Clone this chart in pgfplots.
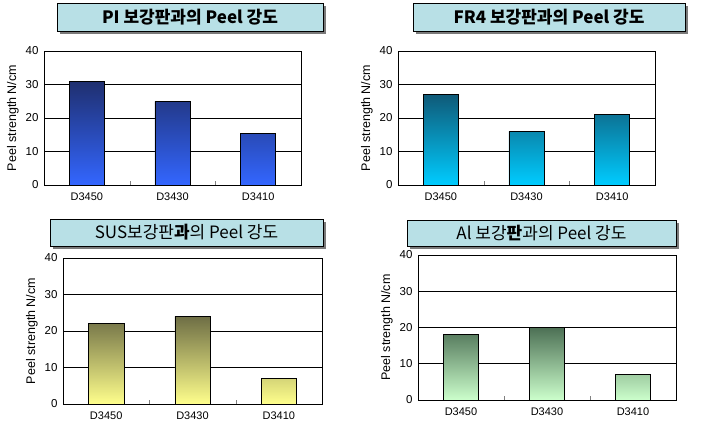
\documentclass[border=0pt]{standalone}
\usepackage{fontspec}
\setmainfont{Liberation Sans}
\newfontfamily\kr{Noto Sans CJK KR}
\usepackage{pgfplots}
\pgfplotsset{compat=1.18}
\definecolor{titlebg}{HTML}{B8E0E6}
\definecolor{shadowc}{HTML}{7A7A7A}
\definecolor{piT}{HTML}{1F2F6F}\definecolor{piB}{HTML}{3366FF}
\definecolor{frT}{HTML}{0F5A78}\definecolor{frB}{HTML}{00CCFF}
\definecolor{suT}{HTML}{6E6E45}\definecolor{suB}{HTML}{FFFF8C}
\definecolor{alT}{HTML}{4D7055}\definecolor{alB}{HTML}{CCFFCC}
\pgfplotsset{
  peel/.style={
    scale only axis, anchor=south west,
    ybar, bar width=0.41,
    xmin=-0.5, xmax=2.5, ymin=0, ymax=40,
    xtick={0,1,2}, xticklabels={D3450,D3430,D3410},
    major x tick style={draw=none},
    minor xtick={0.5,1.5}, minor tick length=4pt,
    ytick={0,10,20,30,40},
    ymajorgrids, grid style={black, line width=0.6pt},
    axis line style={black, line width=0.6pt},
    tick align=inside, tick pos=left,
    major tick length=0pt,
    xticklabel style={font=\fontsize{11}{13}\selectfont, yshift=-4pt},
    yticklabel style={font=\fontsize{11.5}{13}\selectfont, xshift=-2pt},
    /pgf/number format/assume math mode=true,
    ylabel={Peel strength N/cm},
    ylabel style={font=\fontsize{12.5}{14}\selectfont},
    every axis ylabel/.append style={at={(ticklabel cs:0.5)}, anchor=south, yshift=1pt},
  }
}
\newcommand{\titlebox}[5]{%
  \fill[shadowc] (#1pt+3pt,#3pt-3pt) rectangle (#2pt+3pt,#4pt-3pt);
  \draw[fill=titlebg, line width=0.8pt] (#1pt,#3pt) rectangle (#2pt,#4pt);
  \node at ({(#1pt+#2pt)/2},{(#3pt+#4pt)/2}) {#5};
}
\begin{document}
\begin{tikzpicture}[x=1pt,y=1pt]
\path[use as bounding box] (0,0) rectangle (701,426);
% Panel 1: PI
\titlebox{57}{323}{395}{423}{\kr\fontsize{17}{19}\selectfont\bfseries PI 보강판과의 Peel 강도}
\begin{axis}[peel, at={(44pt,241pt)}, width=257pt, height=134pt]
\addplot[draw=black, line width=0.6pt, top color=piT, bottom color=piB] coordinates {(0,31) (1,25) (2,15.3)};
\end{axis}
% Panel 2: FR4
\titlebox{413}{685}{395}{423}{\kr\fontsize{17}{19}\selectfont\bfseries FR4 보강판과의 Peel 강도}
\begin{axis}[peel, at={(398pt,241pt)}, width=257pt, height=134pt]
\addplot[draw=black, line width=0.6pt, top color=frT, bottom color=frB] coordinates {(0,27) (1,16) (2,21)};
\end{axis}
% Panel 3: SUS
\titlebox{50}{323}{180}{207}{\kr\fontsize{17}{19}\selectfont SUS보강판{\bfseries 과}의 Peel 강도}
\begin{axis}[peel, at={(63pt,22pt)}, width=259pt, height=146pt]
\addplot[draw=black, line width=0.6pt, top color=suT, bottom color=suB] coordinates {(0,22) (1,24) (2,7)};
\end{axis}
% Panel 4: Al
\titlebox{407}{676}{180}{206}{\kr\fontsize{17}{19}\selectfont Al 보강{\bfseries 판}과의 Peel 강도}
\begin{axis}[peel, at={(418pt,26pt)}, width=258pt, height=145pt]
\addplot[draw=black, line width=0.6pt, top color=alT, bottom color=alB] coordinates {(0,18) (1,20) (2,7)};
\end{axis}
\end{tikzpicture}
\end{document}
